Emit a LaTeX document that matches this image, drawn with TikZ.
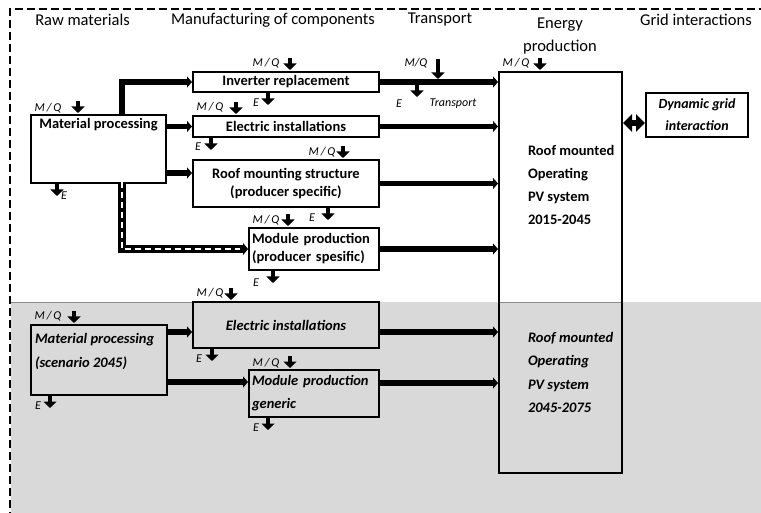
\documentclass[tikz,border=0pt]{standalone}
\usepackage{fontspec}
\setmainfont{Carlito}
\usetikzlibrary{arrows.meta, calc, positioning}
\definecolor{feld}{HTML}{D9D9D9}
\newcommand{\boxfont}{\fontsize{14.5}{18}\selectfont\bfseries}
\newcommand{\kopffont}{\fontsize{16.5}{23}\selectfont}
\newcommand{\kleinfont}{\fontsize{12}{14}\selectfont\itshape}

\begin{document}
\begin{tikzpicture}[
        x=1pt, y=-1pt,
        box/.style={draw, line width=2pt, inner sep=3pt, font=\boxfont, align=center},
        kopf/.style={font=\kopffont, align=center, inner sep=0pt},
        klein/.style={font=\kleinfont, inner sep=0pt},
        flow/.style={line width=5.5pt, -{Triangle[width=11pt,length=5pt]}},
        inflow/.style={line width=4.5pt, -{Triangle[width=13pt,length=6.5pt]}},
      ]
      \useasboundingbox (0,0) rectangle (761,513);
      \clip (0,0) rectangle (761,513);

      % Hintergrund (Szenario 2045)
      \fill[feld] (11,302) rectangle (770,520);
      \draw[black!45, line width=0.8pt] (11,302) -- (193,302);
      \draw[black!45, line width=0.8pt] (499,302) -- (622,302);
      \draw[line width=2.5pt, dash pattern=on 8pt off 4pt]
        (10,520) -- (10,9) -- (770,9);

      % Spaltenkoepfe
      \node[kopf] (kraw) at (82.5,20) {Raw materials};
      \node[kopf] (kman) at (273,20) {Manufacturing of components};
      \node[kopf] (ktra) at (440,20) {Transport};
      \node[kopf] (kene) at (560,36) {Energy\\production};
      \node[kopf, anchor=west] (kgri) at (640,20) {Grid interactions};

      % Boxen 2015
      \node[box, minimum width=135, minimum height=68] (mat) at (98.5,149) {};
      \node[box, draw=none, anchor=north] (matlbl) at (mat.north) {Material processing};
      \node[box, minimum width=186, minimum height=20, inner sep=1pt] (inv) at (286,82) {Inverter replacement};
      \node[box, minimum width=186, minimum height=21, inner sep=1pt] (elec) at (286,126.5) {Electric installations};
      \node[box, minimum width=186, minimum height=47] (roof) at (286,183.5)
        {Roof mounting structure\\(producer specific)};
      \node[box, minimum width=130, minimum height=42, text width=124, align=left, inner sep=2pt] (mod) at (314,249)
        {Module production\\(producer spesific)};
      \node[box, minimum width=123, minimum height=401] (pv) at (560.5,272.5) {};
      \node[box, draw=none, anchor=north west, inner sep=0pt, align=left,
            font=\fontsize{14.5}{23}\selectfont\bfseries] (pvlbl) at (527,144)
        {Roof mounted\\Operating\\PV system\\2015-2045};
      \node[box, minimum width=102, minimum height=44, font=\fontsize{14}{22}\selectfont\bfseries\itshape] (grid) at (697,115)
        {Dynamic grid\\interaction};

      % Boxen 2045
      \node[box, minimum width=136, minimum height=70] (mat2) at (99,360) {};
      \node[box, draw=none, anchor=north west, inner sep=0pt, align=left,
            font=\fontsize{14.5}{24}\selectfont\bfseries\itshape] (mat2lbl) at (34,332)
        {Material processing\\(scenario 2045)};
      \node[box, minimum width=186, minimum height=46, font=\boxfont\itshape] (elec2) at (286,325) {Electric installations};
      \node[box, minimum width=130, minimum height=47, text width=124, align=left, inner sep=2pt,
            font=\fontsize{14.5}{23}\selectfont\bfseries\itshape] (mod2) at (314,393.5)
        {Module production\\generic};
      \node[box, draw=none, anchor=north west, inner sep=0pt, align=left,
            font=\fontsize{14.5}{23.5}\selectfont\bfseries\itshape] (pv2lbl) at (527,331)
        {Roof mounted\\Operating\\PV system\\2045-2075};

      % Stoffstroeme
      \coordinate (abzw) at (122,0);
      \draw[flow] (mat.north -| abzw) |- (inv.west);
      \draw[flow] (mat.east |- elec.west) -- (elec.west);
      \draw[flow] (mat.east |- 0,173) -- (roof.west |- 0,173);
      \draw[line width=7.5pt, -{Triangle[width=12pt,length=5pt]}] (mat.south -| abzw) |- (mod.west);
      \draw[white, line width=2.5pt, dash pattern=on 6pt off 4pt, shorten >=8pt]
        ([yshift=2pt]mat.south -| abzw) |- (mod.west);
      \foreach \n in {inv, elec, roof, mod}
        \draw[flow] (\n.east) -- (\n.east -| pv.west);
      \draw[flow] (mat2.east |- 0,332) -- (elec2.west |- 0,332);
      \draw[flow] (mat2.east |- 0,382) -- (mod2.west |- 0,382);
      \draw[flow] (elec2.east |- 0,332) -- (pv.west |- 0,332);
      \draw[flow] (mod2.east |- 0,383) -- (pv.west |- 0,383);
      \draw[line width=6pt, {Triangle[width=17pt,length=9pt]}-{Triangle[width=17pt,length=9pt]}]
        (pv.east |- 0,123) -- (grid.west |- 0,123);

      % Inputs M/Q und Emissionen E
      \foreach \n/\x in {mat/78, inv/290, elec/236, roof/343, mod/288, elec2/231, mat2/74, mod2/290, pv/540}
        \draw[inflow] (\n.north -| \x,0) ++(0,-13) -- ++(0,12);
      \foreach \n/\x in {mat/57, inv/268, elec/211, roof/328, mod/273, elec2/212, mat2/50, mod2/268}
        \draw[inflow] (\n.south -| \x,0) -- ++(0,12);
      \foreach \n/\x/\y in {mat/48/108, inv/266/63, elec/210/107, roof/322/152, mod/266/220,
                            elec2/210/293, mat2/48/316, mod2/266/363, pv/516/63}
        \node[klein] (mq\n) at (\x,\y) {M\,/\,Q};
      \foreach \n/\x/\y in {mat/64/196, inv/256/103, elec/198/147, roof/312/218, mod/256/283,
                            elec2/199/359, mat2/38/406, mod2/256/428}
        \node[klein] (e\n) at (\x,\y) {E};

      % Transport
      \node[klein] (mqtr) at (416,63) {M/Q};
      \node[klein] (etr) at (399,104) {E};
      \node[klein] (trlbl) at (453,104) {Transport};
      \draw[inflow] (inv.east -| 438,0) ++(0,-23) -- ++(0,20);
      \draw[inflow] (inv.east -| 417,0) ++(0,3) -- ++(0,12);
    \end{tikzpicture}
\end{document}
